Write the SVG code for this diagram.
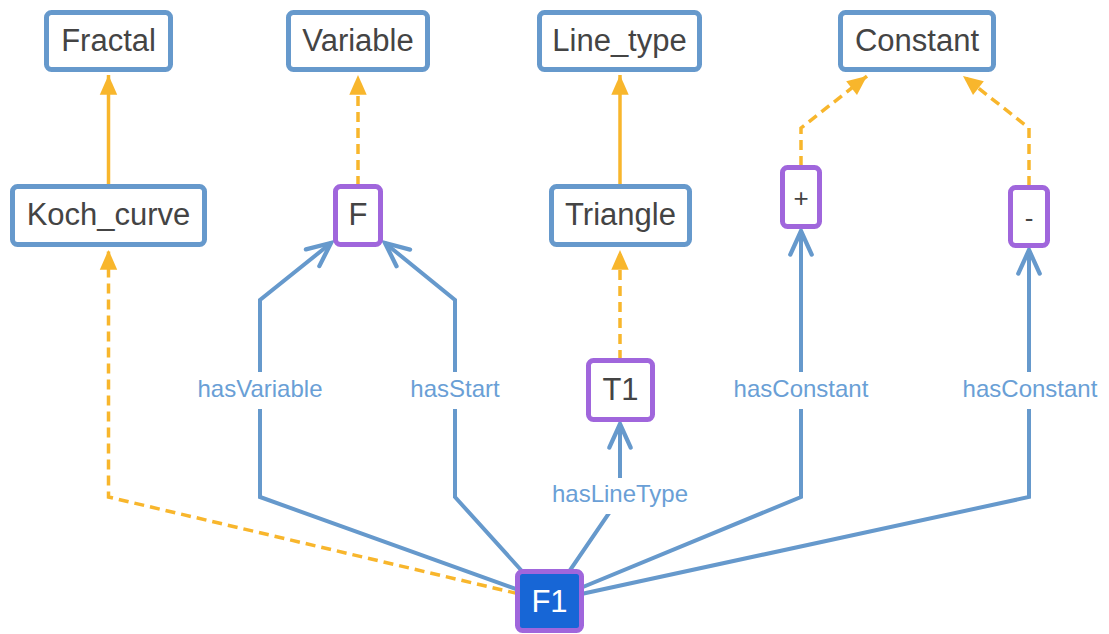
<svg xmlns="http://www.w3.org/2000/svg" width="1109" height="634" viewBox="0 0 1109 634">
<style>
.nb{fill:#fff;stroke:#6699cc;stroke-width:5}
.np{fill:#fff;stroke:#a066dc;stroke-width:5}
.nt{font-family:"Liberation Sans",Arial,sans-serif;font-size:31px;fill:#444;text-anchor:middle}
.e{fill:none;stroke:#6699cc;stroke-width:4;stroke-linejoin:miter}
.y{fill:none;stroke:#f8b62c;stroke-width:3.5}
.yd{fill:none;stroke:#f8b62c;stroke-width:3.5;stroke-dasharray:10 6}
.lb{font-family:"Liberation Sans",Arial,sans-serif;font-size:24px;fill:#6a9fd6;text-anchor:middle}
</style>
<defs>
<marker id="ya" markerUnits="userSpaceOnUse" orient="auto" markerWidth="24" markerHeight="24" viewBox="-20 -10 22 20" refX="0" refY="0" overflow="visible">
<path d="M-18,-8 L0,0 L-18,8 Z" fill="#f8b62c"/>
</marker>
<marker id="ba" markerUnits="userSpaceOnUse" orient="auto" markerWidth="30" markerHeight="30" viewBox="-24 -14 28 28" refX="0" refY="0" overflow="visible">
<path d="M-22,-10 L0,0 L-22,10" fill="none" stroke="#6699cc" stroke-width="4" stroke-linejoin="miter" stroke-linecap="round"/>
</marker>
</defs>
<g id="connectors">
<path class="y" d="M108.5,186 L108.5,75" marker-end="url(#ya)"/>
<path class="yd" d="M358,186 L358,75" marker-end="url(#ya)"/>
<path class="y" d="M620,186 L620,75" marker-end="url(#ya)"/>
<path class="yd" d="M801,166 L801,128 L867,76" marker-end="url(#ya)"/>
<path class="yd" d="M1029,186 L1029,128 L963,76" marker-end="url(#ya)"/>
<path class="yd" d="M620,360 L620,250" marker-end="url(#ya)"/>
<path class="yd" d="M549,601 L108.5,497 L108.5,250" marker-end="url(#ya)"/>
<path class="e" d="M549,601 L260,497 L260,300 L331,243" marker-end="url(#ba)"/>
<path class="e" d="M549,601 L455,497 L455,300 L385,243" marker-end="url(#ba)"/>
<path class="e" d="M549,601 L620,497 L620,424" marker-end="url(#ba)"/>
<path class="e" d="M549,601 L801,497 L801,231" marker-end="url(#ba)"/>
<path class="e" d="M549,601 L1029,497 L1029,250" marker-end="url(#ba)"/>
<rect x="190" y="372" width="140" height="37" fill="#fff"/>
<rect x="400" y="372" width="110" height="37" fill="#fff"/>
<rect x="545" y="478" width="150" height="36" fill="#fff"/>
<rect x="725" y="372" width="152" height="37" fill="#fff"/>
<rect x="953" y="372" width="152" height="37" fill="#fff"/>
<text class="lb" x="260" y="397">hasVariable</text>
<text class="lb" x="455" y="397">hasStart</text>
<text class="lb" x="620" y="502">hasLineType</text>
<text class="lb" x="801" y="397">hasConstant</text>
<text class="lb" x="1030" y="397">hasConstant</text>
</g>
<g id="Fractal"><rect class="nb" x="46.5" y="12.5" width="124" height="57" rx="5"/><text class="nt" x="108.5" y="51">Fractal</text></g>
<g id="Variable"><rect class="nb" x="288.5" y="12.5" width="139" height="57" rx="5"/><text class="nt" x="358" y="51">Variable</text></g>
<g id="Line_type"><rect class="nb" x="539.5" y="12.5" width="160" height="57" rx="5"/><text class="nt" x="619.5" y="51">Line_type</text></g>
<g id="Constant"><rect class="nb" x="840.5" y="12.5" width="153" height="57" rx="5"/><text class="nt" x="917" y="51">Constant</text></g>
<g id="Koch_curve"><rect class="nb" x="12.5" y="186.5" width="192" height="58" rx="5"/><text class="nt" x="108.5" y="225">Koch_curve</text></g>
<g id="F"><rect class="np" x="335.5" y="186.5" width="45" height="58" rx="5"/><text class="nt" x="358" y="225">F</text></g>
<g id="Triangle"><rect class="nb" x="551.5" y="186.5" width="138" height="58" rx="5"/><text class="nt" x="620.5" y="225">Triangle</text></g>
<g id="plus"><rect class="np" x="782.5" y="167.5" width="37" height="59" rx="5"/><text class="nt" x="801" y="207" style="font-size:26px">+</text></g>
<g id="minus"><rect class="np" x="1010.5" y="187.5" width="37" height="58" rx="5"/><text class="nt" x="1029" y="227" style="font-size:26px">-</text></g>
<g id="T1"><rect class="np" x="588.5" y="360.5" width="64" height="59" rx="5"/><text class="nt" x="620.5" y="400">T1</text></g>
<g id="F1"><rect x="517.5" y="571.5" width="64" height="59" rx="5" fill="#1766d6" stroke="#a066dc" stroke-width="5"/><text class="nt" x="549.5" y="612" style="fill:#fff">F1</text></g>
</svg>
